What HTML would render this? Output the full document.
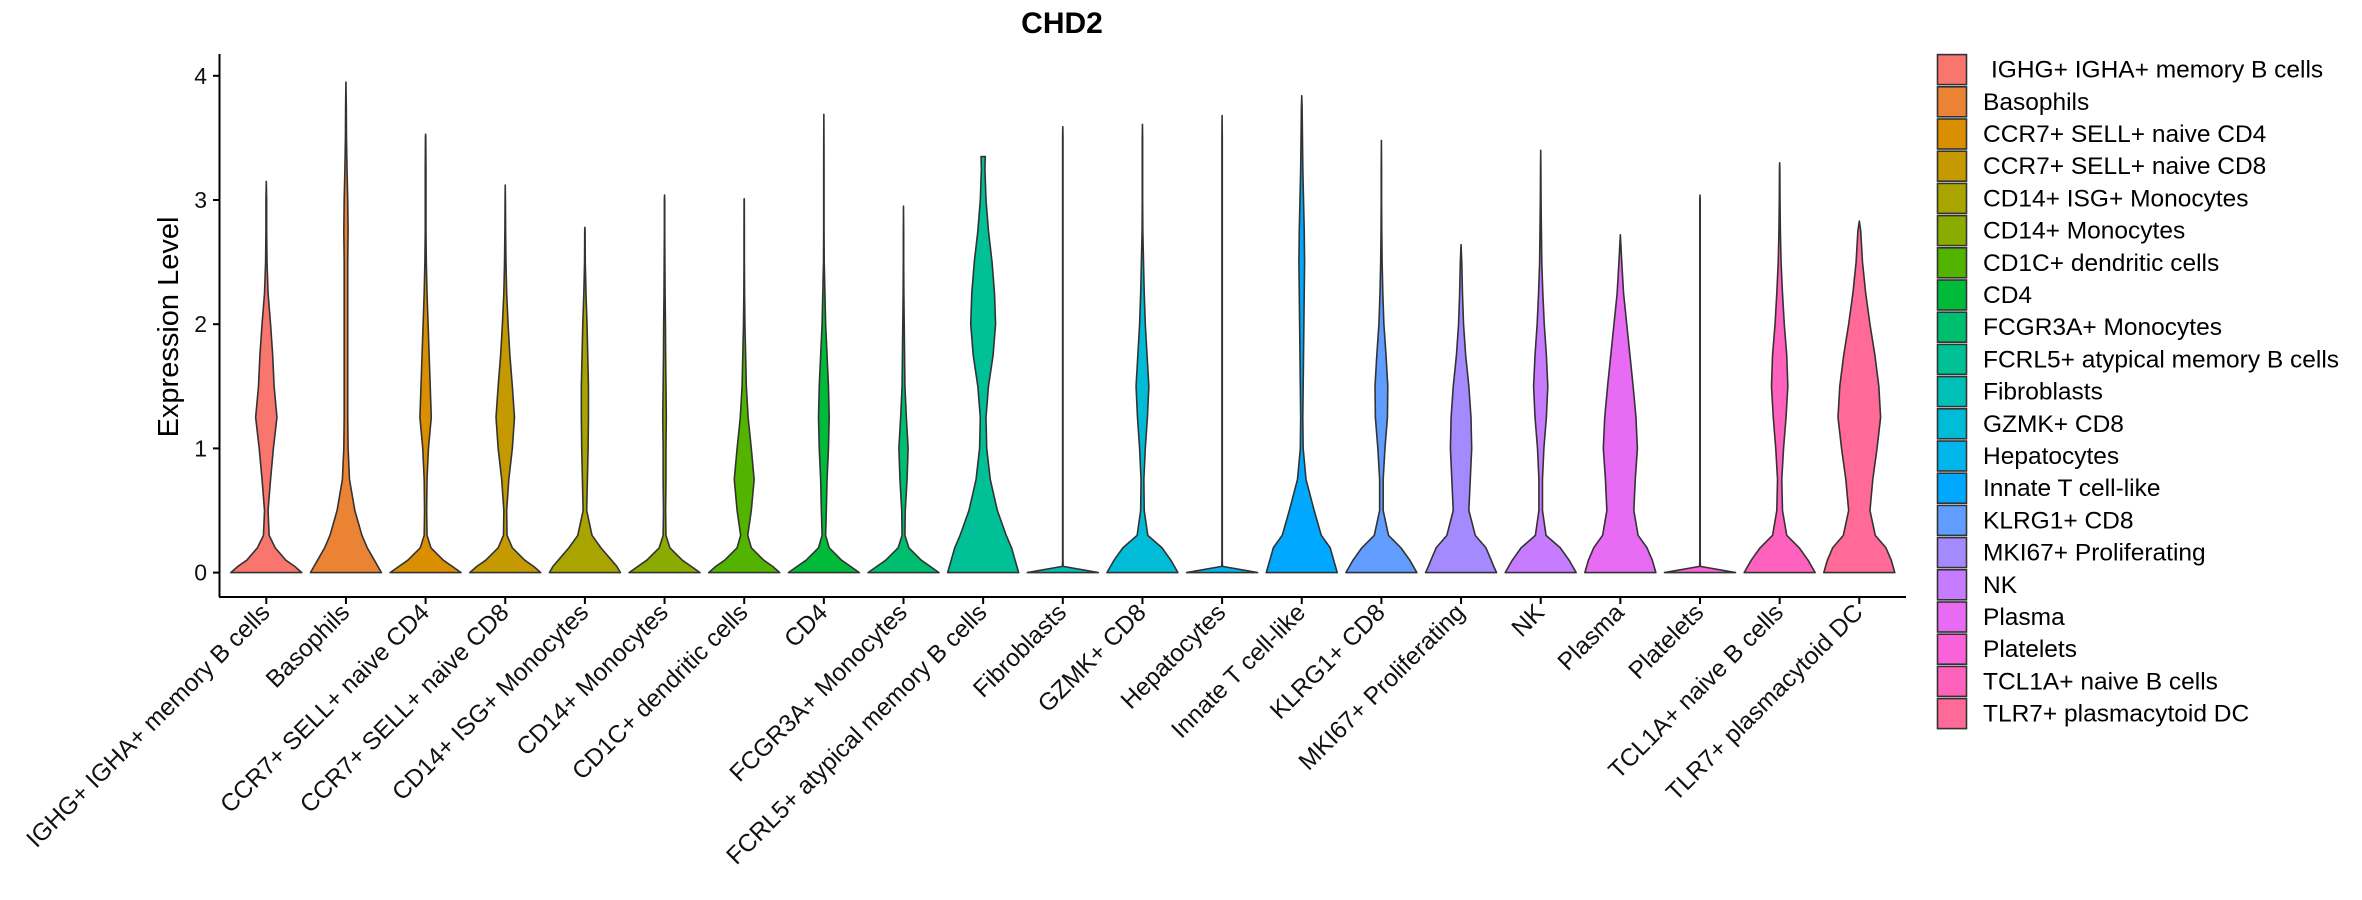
<!DOCTYPE html>
<html><head><meta charset="utf-8"><style>
body{margin:0;background:#fff;}
svg{display:block;font-family:"Liberation Sans","DejaVu Sans",sans-serif;}
</style></head><body>
<svg id="chart" width="2362" height="900" viewBox="0 0 2362 900">
<text x="1062" y="33" text-anchor="middle" font-size="30" font-weight="bold" fill="#000">CHD2</text>
<text transform="translate(178,327) rotate(-90)" text-anchor="middle" font-size="29" fill="#000">Expression Level</text>
<g id="plot"></g>
<g id="legend"></g>
</svg>
<script>
const categories=["IGHG+ IGHA+ memory B cells","Basophils","CCR7+ SELL+ naive CD4","CCR7+ SELL+ naive CD8","CD14+ ISG+ Monocytes","CD14+ Monocytes","CD1C+ dendritic cells","CD4","FCGR3A+ Monocytes","FCRL5+ atypical memory B cells","Fibroblasts","GZMK+ CD8","Hepatocytes","Innate T cell-like","KLRG1+ CD8","MKI67+ Proliferating","NK","Plasma","Platelets","TCL1A+ naive B cells","TLR7+ plasmacytoid DC"];
const colors=["#F8766D","#EB8335","#DA8F00","#C49A00","#A9A400","#8AAB00","#53B400","#00BB3A","#00BE70","#00C097","#00C0B8","#00BCD6","#00B6EB","#00A9FF","#619CFF","#A58AFF","#C77CFF","#E76BF3","#FA62DB","#FF62BC","#FF6A98"];
const maxVals=[3.15,3.95,3.53,3.12,2.78,3.04,3.01,3.69,2.95,3.35,3.59,3.61,3.68,3.84,3.48,2.64,3.40,2.72,3.04,3.30,2.83];
const topWidths=[0,0,0,0,0,0,0,0,0,0.06,0,0,0,0,0,0,0,0,0,0,0];
const yGrid=[0,0.05,0.1,0.2,0.3,0.5,0.75,1,1.25,1.5,1.75,2,2.25,2.5,2.75,3,3.25,3.5,3.75];
const profiles=[
[1,.8,.55,.25,.08,.05,.12,.2,.3,.22,.18,.12,.05,.02,.01,.01],
[1,.9,.8,.6,.45,.25,.1,.06,.05,.05,.05,.05,.05,.05,.06,.05,.03,.015,.01],
[1,.75,.5,.15,.04,.03,.04,.08,.16,.13,.1,.07,.04,.02,.01,.01,.01,.005],
[1,.8,.55,.2,.05,.04,.1,.2,.26,.2,.13,.08,.04,.02,.01,.005],
[1,.9,.75,.45,.2,.05,.07,.09,.1,.1,.08,.06,.03,.01,.005],
[1,.75,.5,.15,.04,.03,.04,.04,.05,.04,.03,.025,.015,.01,.005,.005],
[1,.8,.55,.2,.1,.2,.28,.2,.11,.06,.04,.02,.01,.005,.005,.003],
[1,.75,.5,.15,.05,.07,.09,.13,.15,.13,.09,.05,.03,.01,.005,.005,.005,.003],
[1,.75,.5,.15,.04,.05,.1,.13,.08,.04,.03,.02,.01,.005,.005],
[1,.95,.9,.8,.65,.4,.2,.1,.08,.15,.28,.35,.32,.25,.15,.08,.05],
[1,.01,.005,.005,.005,.005,.005,.005,.005,.005,.005,.005,.005,.005,.005,.005,.005,.005],
[1,.9,.8,.55,.15,.05,.04,.08,.14,.18,.13,.08,.05,.03,.01,.005,.005,.005],
[1,.01,.005,.005,.005,.005,.005,.005,.005,.005,.005,.005,.005,.005,.005,.005,.005,.005],
[1,.95,.9,.8,.55,.35,.12,.04,.03,.04,.05,.06,.07,.08,.07,.05,.03,.02,.01],
[1,.9,.8,.55,.2,.05,.05,.1,.17,.18,.13,.07,.04,.02,.01,.005,.005],
[1,.92,.85,.7,.4,.22,.26,.3,.28,.22,.13,.07,.04,.02,.01],
[1,.9,.8,.55,.15,.05,.05,.09,.16,.2,.16,.1,.06,.03,.02,.01,.005],
[1,.95,.9,.75,.5,.38,.42,.48,.44,.36,.27,.18,.09,.04,.02],
[1,.01,.005,.005,.005,.005,.005,.005,.005,.005,.005,.005,.005,.005,.005,.005],
[1,.9,.8,.55,.2,.08,.06,.11,.18,.23,.2,.13,.08,.04,.02,.01,.005],
[1,.95,.9,.75,.45,.3,.38,.5,.6,.55,.44,.3,.18,.09,.04]
];
const yTicks=[0,1,2,3,4];
const NS="http://www.w3.org/2000/svg";
const plot=document.getElementById('plot');
const legend=document.getElementById('legend');
const X0=266.3,STEP=79.65,Y0=572.6,UNIT=124.2,HALF=35.5;
function xScale(i){return X0+i*STEP;}
function yScale(v){return Y0-v*UNIT;}
function mk(tag,attrs,parent){const e=document.createElementNS(NS,tag);for(const k in attrs)e.setAttribute(k,attrs[k]);parent.appendChild(e);return e;}
const ya=mk('line',{x1:219.5,y1:54,x2:219.5,y2:597,stroke:'#000','stroke-width':2},plot);


const xa=mk('line',{x1:219,y1:597,x2:1906,y2:597,stroke:'#000','stroke-width':2},plot);


yTicks.forEach(t=>{
  const y=yScale(t);
  const tk=mk('line',{x1:213,y1:y,x2:219,y2:y,stroke:'#000','stroke-width':2},plot);
  
  
  const lb=mk('text',{x:207,y:y+8,'text-anchor':'end','font-size':23,fill:'#111'},plot);
  lb.textContent=t;
  
  
});
categories.forEach((c,i)=>{
  const cx=xScale(i);
  const mx=maxVals[i];
  const pts=[];
  const prof=profiles[i];
  for(let k=0;k<yGrid.length&&k<prof.length;k++){if(yGrid[k]<mx)pts.push([yGrid[k],prof[k]]);}
  pts.push([mx,topWidths[i]]);
  let d='';
  pts.forEach((p,k)=>{d+=(k?'L':'M')+(cx+p[1]*HALF).toFixed(2)+','+yScale(p[0]).toFixed(2);});
  for(let k=pts.length-1;k>=0;k--){const p=pts[k];d+='L'+(cx-p[1]*HALF).toFixed(2)+','+yScale(p[0]).toFixed(2);}
  d+='Z';
  const v=mk('path',{d:d,fill:colors[i],stroke:'#333','stroke-width':1.6,'stroke-linejoin':'round'},plot);
  
  
  const tk=mk('line',{x1:cx,y1:597,x2:cx,y2:604,stroke:'#000','stroke-width':2},plot);
  
  
  const lb=mk('text',{transform:'translate('+(cx+5)+',614) rotate(-45)','text-anchor':'end','font-size':24.5,fill:'#111'},plot);
  lb.textContent=c;
  
  
  const ly=54.6+i*32.2;
  const g=mk('g',{},legend);
  
  
  mk('rect',{x:1937.5,y:ly,width:29,height:30,fill:colors[i],stroke:'#333','stroke-width':1.6},g);
  const t=mk('text',{x:i===0?1991:1983,y:ly+23,'font-size':24.5,fill:'#000'},g);
  t.textContent=c;
});
</script>
</body></html>
